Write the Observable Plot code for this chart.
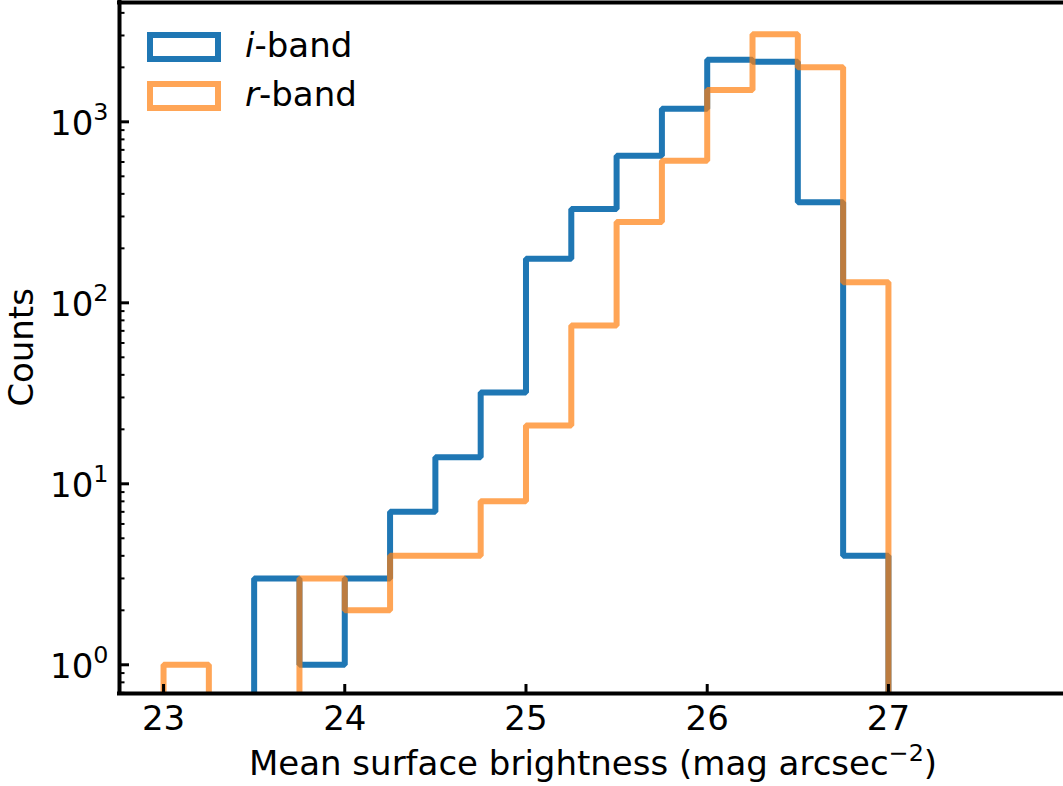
<!DOCTYPE html>
<html><head><meta charset="utf-8">
<script src="https://cdn.jsdelivr.net/npm/d3@7"></script>
<script src="https://cdn.jsdelivr.net/npm/@observablehq/plot@0.6"></script>
<style>body{margin:0;background:#fff} svg{display:block}</style>
</head><body><div id="chart"></div>
<script>
// ---- data ----
const binEdges = [23.0, 23.25, 23.5, 23.75, 24.0, 24.25, 24.5, 24.75, 25.0, 25.25, 25.5, 25.75, 26.0, 26.25, 26.5, 26.75, 27.0];
const iBandCounts = [0, 0, 3, 1, 3, 7, 14, 32, 175, 330, 650, 1180, 2200, 2150, 360, 4];
const rBandCounts = [1, 0, 0, 3, 2, 4, 4, 8, 21, 75, 280, 610, 1500, 3050, 2000, 130];
const seriesNames = ["i-band", "r-band"];
const seriesColors = ["#1f77b4", "#ff7f0e"];
const seriesOpacity = [1, 0.7];
const xTicks = [23, 24, 25, 26, 27];
const yMajorTicks = [1, 10, 100, 1000];
const yMinorTicks = [0.7, 0.8, 0.9, 2, 3, 4, 5, 6, 7, 8, 9, 20, 30, 40, 50, 60, 70, 80, 90, 200, 300, 400, 500, 600, 700, 800, 900, 2000, 3000, 4000];
const xDomain = [22.757, 27.966];
const yDomain = [0.694, 4564];
const xLabel = "Mean surface brightness (mag arcsec";
const xLabelSup = "\u22122";
const yLabel = "Counts";

const FLOOR = 1e-3;
function stepPoints(counts, band) {
  const pts = [{x: binEdges[0], y: FLOOR, band}];
  counts.forEach((c, k) => pts.push({x: binEdges[k], y: c > 0 ? c : FLOOR, band}));
  const last = counts[counts.length - 1];
  pts.push({x: binEdges[binEdges.length - 1], y: last > 0 ? last : FLOOR, band});
  pts.push({x: binEdges[binEdges.length - 1], y: FLOOR, band});
  return pts;
}
const iPts = stepPoints(iBandCounts, seriesNames[0]);
const rPts = stepPoints(rBandCounts, seriesNames[1]);

const W = 1063, H = 786;
const mL = 119, mT = 2, mB = 93, mR = 0;
const FONT = "DejaVu Sans";
const FS = 34;
const LW = 6;
const blank = () => "";

const plot = Plot.plot({
  width: W, height: H,
  marginLeft: mL, marginRight: mR, marginTop: mT, marginBottom: mB,
  style: {fontFamily: FONT, fontSize: FS + "px", background: "#fff", color: "#000", overflow: "visible"},
  x: {type: "linear", domain: xDomain},
  y: {type: "log", domain: yDomain},
  marks: [
    Plot.line(iPts, {x: "x", y: "y", curve: "step-after", stroke: seriesColors[0], strokeOpacity: seriesOpacity[0], strokeWidth: LW, strokeLinejoin: "miter", strokeLinecap: "butt", clip: true}),
    Plot.line(rPts, {x: "x", y: "y", curve: "step-after", stroke: seriesColors[1], strokeOpacity: seriesOpacity[1], strokeWidth: LW, strokeLinejoin: "miter", strokeLinecap: "butt", clip: true}),
    // spines
    Plot.ruleX([xDomain[0]], {stroke: "#000", strokeWidth: 4, strokeLinecap: "square"}),
    Plot.ruleY([yDomain[0]], {stroke: "#000", strokeWidth: 4, strokeLinecap: "square"}),
    Plot.ruleY([yDomain[1]], {stroke: "#000", strokeWidth: 4, strokeLinecap: "square"}),
    // inward ticks
    Plot.axisY({ticks: yMajorTicks, tickSize: 10, dx: 10, strokeWidth: 3, tickFormat: blank, label: null}),
    Plot.axisY({ticks: yMinorTicks, tickSize: 5.5, dx: 5.5, strokeWidth: 2, tickFormat: blank, label: null}),
    Plot.axisX({ticks: xTicks, tickSize: 9, dy: -9, strokeWidth: 3, tickFormat: blank, label: null}),
    // tick labels
    Plot.axisY({ticks: yMajorTicks, tickSize: 0, tickPadding: 11, dy: 2, tickFormat: d => "10^" + Math.round(Math.log10(d)), label: null, fontSize: FS}),
    Plot.axisX({ticks: xTicks, tickSize: 0, tickPadding: 12, tickFormat: d => String(d), label: null, fontSize: FS})
  ]
});

document.getElementById("chart").appendChild(plot);
const svg = d3.select(plot);

// superscripts for y tick labels
plot.querySelectorAll('[aria-label="y-axis tick label"] text').forEach(t => {
  const s = t.textContent;
  const m = s.match(/^10\^(-?\d+)$/);
  if (m) {
    t.textContent = "";
    const sel = d3.select(t);
    sel.append("tspan").text("10");
    sel.append("tspan").attr("font-size", "0.7em").attr("dy", "-0.6em").text(m[1]);
  }
});

// x label
const xl = svg.append("text")
  .attr("x", 593).attr("y", 775)
  .attr("text-anchor", "middle")
  .attr("font-family", FONT).attr("font-size", FS).attr("fill", "#000");
xl.append("tspan").text(xLabel);
xl.append("tspan").attr("font-size", "0.7em").attr("dy", "-0.6em").text(xLabelSup);
xl.append("tspan").attr("dy", "0.42em").text(")");

// y label
svg.append("text")
  .attr("transform", `translate(33,${(mT + (H - mB)) / 2}) rotate(-90)`)
  .attr("text-anchor", "middle")
  .attr("font-family", FONT).attr("font-size", FS).attr("fill", "#000")
  .text(yLabel);

// legend
const leg = svg.append("g");
seriesNames.forEach((name, k) => {
  const y0 = 35 + k * 49;
  leg.append("rect")
    .attr("x", 150).attr("y", y0).attr("width", 68).attr("height", 24)
    .attr("fill", "none").attr("stroke", seriesColors[k]).attr("stroke-opacity", seriesOpacity[k])
    .attr("stroke-width", LW);
  const t = leg.append("text")
    .attr("x", 245).attr("y", y0 + 22)
    .attr("text-anchor", "start")
    .attr("font-family", FONT).attr("font-size", FS).attr("fill", "#000");
  const [a, b] = name.split("-");
  t.append("tspan").attr("font-style", "italic").text(a);
  t.append("tspan").text("-" + b);
});
</script>
</body></html>
